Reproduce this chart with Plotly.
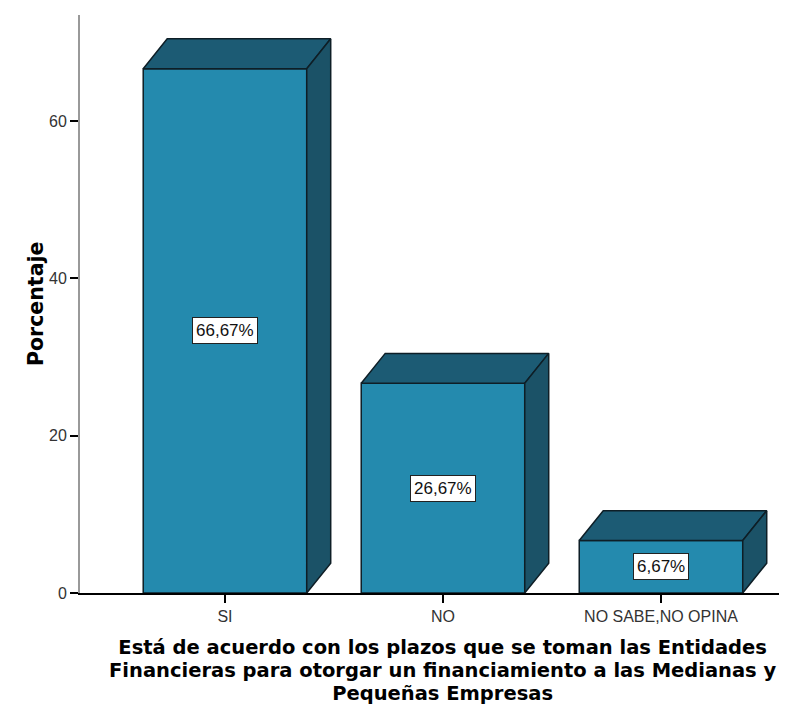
import plotly.graph_objects as go

categories = ["SI", "NO", "NO SABE,NO OPINA"]
percentages = [66.67, 26.67, 6.67]
y_ticks = [0, 20, 40, 60]
x_title_lines = [
    "Está de acuerdo con los plazos que se toman las Entidades",
    "Financieras para otorgar un financiamiento a las Medianas y",
    "Pequeñas Empresas",
]
y_title = "Porcentaje"

FRONT = "#248AAE"
TOP = "#1C5B74"
SIDE = "#1B5267"
EDGE = "#0E1E26"

bar_w = 0.75
depth_x = 0.11
depth_y = 3.8

xs = list(range(len(categories)))

fig = go.Figure()

# front faces
fig.add_trace(go.Bar(
    x=xs, y=percentages, width=bar_w,
    marker=dict(color=FRONT, line=dict(color=EDGE, width=1.5)),
    hoverinfo="skip", showlegend=False,
))

# top and side faces derived from the values
for x, v in zip(xs, percentages):
    l, r = x - bar_w / 2, x + bar_w / 2
    fig.add_trace(go.Scatter(
        x=[l, r, r + depth_x, l + depth_x, l],
        y=[v, v, v + depth_y, v + depth_y, v],
        fill="toself", fillcolor=TOP, mode="lines",
        line=dict(color=EDGE, width=1.5), hoverinfo="skip", showlegend=False,
    ))
    fig.add_trace(go.Scatter(
        x=[r, r + depth_x, r + depth_x, r, r],
        y=[0, depth_y, v + depth_y, v, 0],
        fill="toself", fillcolor=SIDE, mode="lines",
        line=dict(color=EDGE, width=1.5), hoverinfo="skip", showlegend=False,
    ))

annotations = []
for x, v in zip(xs, percentages):
    annotations.append(dict(
        x=x, y=v / 2, xref="x", yref="y",
        text=f"{v:.2f}".replace(".", ",") + "%",
        showarrow=False,
        font=dict(family="Liberation Sans, Arial", size=17, color="#111"),
        bgcolor="white", bordercolor="#222", borderwidth=1, borderpad=3,
    ))

# x-axis title: one text block, compact line spacing
title_text = "<br>".join(
    f"<span style='font-size:19.5px'>{line}</span>" for line in x_title_lines
)
annotations.append(dict(
    x=1, xref="x", y=0, yref="paper", yanchor="middle", yshift=-77,
    text=title_text, showarrow=False, align="center",
    font=dict(family="DejaVu Sans", size=17.5, color="black", weight="bold"),
))

annotations.append(dict(
    x=0, xref="paper", xshift=-58, y=0.5, yref="paper",
    text=y_title, textangle=-90, showarrow=False,
    font=dict(family="DejaVu Sans", size=20.5, color="black", weight="bold"),
))

fig.update_layout(
    width=779, height=705,
    margin=dict(l=72, r=0, t=7, b=120),
    paper_bgcolor="white", plot_bgcolor="white",
    annotations=annotations,
    showlegend=False,
    xaxis=dict(
        range=[-0.665, 2.578], tickvals=xs, ticktext=categories,
        showgrid=False, zeroline=False, showline=True, linecolor="black", linewidth=1.5,
        ticks="outside", ticklen=8, tickcolor="black", tickwidth=1.5,
        tickfont=dict(family="Liberation Sans, Arial", size=16, color="#333"),
        fixedrange=True,
    ),
    yaxis=dict(
        range=[0, 73.5], tickvals=y_ticks,
        showgrid=False, zeroline=False, showline=True, linecolor="#999", linewidth=2,
        ticks="outside", ticklen=8, tickcolor="black", tickwidth=1.5,
        tickfont=dict(family="Liberation Sans, Arial", size=16, color="#333"),
        fixedrange=True,
    ),
)

fig.write_html("out.html")
